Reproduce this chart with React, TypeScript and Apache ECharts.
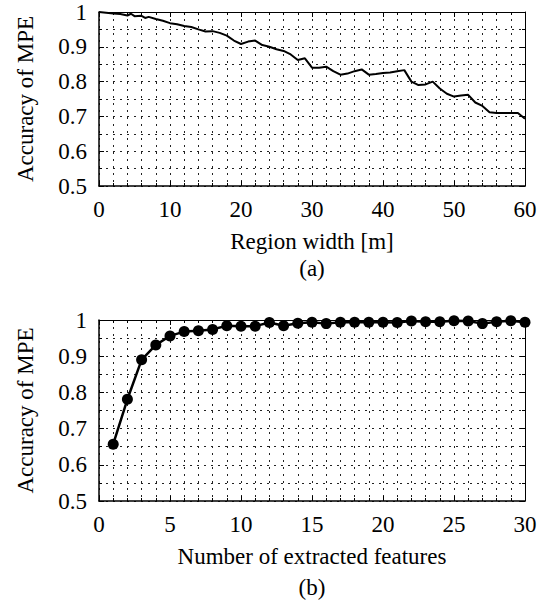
import React, { useEffect, useRef } from "react";
import * as echarts from "echarts";

// (a) Accuracy of MPE vs region width [m]
const regionWidth: number[] = [
  0, 1, 2, 3, 4, 4.5, 5, 6, 6.5, 7, 8, 9, 10, 11, 12, 13, 14, 15, 16, 17, 18, 19, 20,
  21, 22, 23, 24, 25, 26, 27, 28, 29, 30, 31, 32, 33, 34, 35, 36, 37, 38, 39, 40,
  41, 42, 43, 44, 45, 46, 47, 48, 49, 50, 51, 52, 53, 54, 55, 56, 57, 58, 59, 60,
];
const accuracyA: number[] = [
  1.0, 0.998, 0.996, 0.994, 0.99, 0.995, 0.988, 0.989, 0.983, 0.986, 0.98, 0.975, 0.968,
  0.965, 0.96, 0.957, 0.95, 0.944, 0.945, 0.94, 0.932, 0.918, 0.908, 0.915, 0.918, 0.905,
  0.9, 0.893, 0.888, 0.878, 0.862, 0.867, 0.84, 0.84, 0.843, 0.83, 0.82, 0.823, 0.83,
  0.835, 0.82, 0.822, 0.825, 0.826, 0.83, 0.833, 0.8, 0.79, 0.792, 0.8, 0.78, 0.765,
  0.757, 0.76, 0.762, 0.74, 0.73, 0.712, 0.71, 0.71, 0.71, 0.71, 0.693,
];

// (b) Accuracy of MPE vs number of extracted features
const featureCount: number[] = [
  1, 2, 3, 4, 5, 6, 7, 8, 9, 10, 11, 12, 13, 14, 15, 16, 17, 18, 19, 20, 21, 22, 23, 24,
  25, 26, 27, 28, 29, 30,
];
const accuracyB: number[] = [
  0.657, 0.781, 0.89, 0.931, 0.956, 0.968, 0.97, 0.974, 0.984, 0.983, 0.983, 0.993,
  0.984, 0.991, 0.994, 0.99, 0.994, 0.994, 0.994, 0.994, 0.993, 0.997, 0.995, 0.995,
  0.998, 0.997, 0.99, 0.995, 0.998, 0.994,
];

const FONT = "'Liberation Serif', 'Times New Roman', 'DejaVu Serif', serif";
const FS = 23;

export default function App() {
  const ref = useRef<HTMLDivElement>(null);
  useEffect(() => {
    document.body.style.margin = "0";
    if (!ref.current) return;
    const chart = echarts.init(ref.current, undefined, { renderer: "svg" });

    const dotted = { color: "#222", width: 1, type: [2, 5] as number[] };
    const yFmt = (v: number) => String(Math.round(v * 10) / 10);

    const makeX = (gi: number, max: number, interval: number, name: string) => [
      {
        type: "value",
        gridIndex: gi,
        min: 0,
        max,
        interval,
        position: "bottom",
        name,
        nameLocation: "middle",
        nameGap: 44,
        nameTextStyle: { fontFamily: FONT, fontSize: FS, color: "#000" },
        axisLine: { show: true, onZero: false, lineStyle: { color: "#000", width: 1.5 } },
        axisTick: { show: true, inside: true, length: 5, lineStyle: { color: "#000" } },
        minorTick: { show: true, splitNumber: 5, length: 3, lineStyle: { color: "#000" } },
        axisLabel: { fontFamily: FONT, fontSize: FS, color: "#000", margin: 12 },
        splitLine: { show: true, lineStyle: dotted },
        minorSplitLine: { show: true, lineStyle: dotted },
      },
      {
        type: "value",
        gridIndex: gi,
        min: 0,
        max,
        interval,
        position: "top",
        axisLine: { show: true, onZero: false, lineStyle: { color: "#000", width: 1 } },
        axisTick: { show: true, inside: true, length: 5, lineStyle: { color: "#000" } },
        minorTick: { show: true, splitNumber: 5, length: 3, lineStyle: { color: "#000" } },
        axisLabel: { show: false },
        splitLine: { show: false },
      },
    ];

    const makeY = (gi: number) => [
      {
        type: "value",
        gridIndex: gi,
        min: 0.5,
        max: 1,
        interval: 0.1,
        position: "left",
        name: "Accuracy of MPE",
        nameLocation: "middle",
        nameGap: 62,
        nameRotate: 90,
        nameTextStyle: { fontFamily: FONT, fontSize: FS, color: "#000" },
        axisLine: { show: true, onZero: false, lineStyle: { color: "#000", width: 1.5 } },
        axisTick: { show: true, inside: true, length: 5, lineStyle: { color: "#000" } },
        minorTick: { show: true, splitNumber: 2, length: 3, lineStyle: { color: "#000" } },
        axisLabel: { fontFamily: FONT, fontSize: FS, color: "#000", margin: 12, formatter: yFmt },
        splitLine: { show: true, lineStyle: dotted },
        minorSplitLine: { show: true, lineStyle: dotted },
      },
      {
        type: "value",
        gridIndex: gi,
        min: 0.5,
        max: 1,
        interval: 0.1,
        position: "right",
        axisLine: { show: true, onZero: false, lineStyle: { color: "#000", width: 1 } },
        axisTick: { show: true, inside: true, length: 5, lineStyle: { color: "#000" } },
        minorTick: { show: true, splitNumber: 2, length: 3, lineStyle: { color: "#000" } },
        axisLabel: { show: false },
        splitLine: { show: false },
      },
    ];

    chart.setOption({
      animation: false,
      backgroundColor: "#fff",
      grid: [
        { left: 99, top: 12, width: 426, height: 174 },
        { left: 99, top: 320, width: 426, height: 181 },
      ],
      xAxis: [
        ...makeX(0, 60, 10, "Region width [m]"),
        ...makeX(1, 30, 5, "Number of extracted features"),
      ],
      yAxis: [...makeY(0), ...makeY(1)],
      graphic: [
        {
          type: "text",
          x: 312,
          y: 268,
          style: {
            text: "(a)",
            fontFamily: FONT,
            fontSize: FS,
            fill: "#000",
            textAlign: "center",
            textVerticalAlign: "middle",
          },
        },
        {
          type: "text",
          x: 312,
          y: 587,
          style: {
            text: "(b)",
            fontFamily: FONT,
            fontSize: FS,
            fill: "#000",
            textAlign: "center",
            textVerticalAlign: "middle",
          },
        },
      ],
      series: [
        {
          type: "line",
          xAxisIndex: 0,
          yAxisIndex: 0,
          data: regionWidth.map((x, i) => [x, accuracyA[i]]),
          showSymbol: false,
          symbol: "none",
          lineStyle: { color: "#000", width: 2 },
        },
        {
          type: "line",
          xAxisIndex: 2,
          yAxisIndex: 2,
          data: featureCount.map((x, i) => [x, accuracyB[i]]),
          symbol: "circle",
          symbolSize: 11,
          itemStyle: { color: "#000" },
          lineStyle: { color: "#000", width: 2.5 },
        },
      ],
    });
    return () => chart.dispose();
  }, []);
  return <div ref={ref} style={{ width: 544, height: 605 }} />;
}
